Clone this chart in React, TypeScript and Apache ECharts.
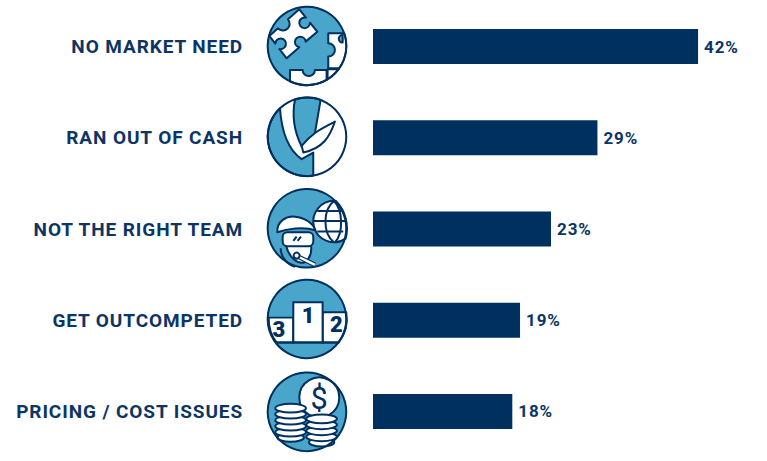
import React, { useEffect, useRef } from "react";
import * as echarts from "echarts";

const categories = ["NO MARKET NEED", "RAN OUT OF CASH", "NOT THE RIGHT TEAM", "GET OUTCOMPETED", "PRICING / COST ISSUES"];
const values = [42, 29, 23, 19, 18];

const NAVY = "#00305f";
const BLUE = "#4aa5cb";
const TEXT = "#0c3565";
const WHITE = "#ffffff";

const paths: Record<string, string> = {
  piece: "M 28 108 L 54 85 A 17 17 0 1 0 84 58 L 118 28 L 138 53 A 16 16 0 1 0 150 68 L 172 95 L 137 125 A 16 16 0 1 0 118 142 L 80 175 L 58 147 A 16 16 0 1 0 46 131 Z",
  rightPiece: "M 205 100 L 253 100 A 118 118 0 0 1 238 205 L 205 205 L 205 170 A 20 20 0 1 0 205 130 Z",
  rightBite: "M 248 105 A 11 11 0 0 0 248 128 A 118 118 0 0 0 248 105 Z",
  bottomPiece: "M 90 210 L 128 210 A 18 18 0 1 0 165 210 L 200 210 L 200 240 A 118 118 0 0 1 90 244 Z",
  cornerPiece: "M 203 208 L 236 208 A 118 118 0 0 1 203 238 Z",
  jacket: "M 60 325 C 65 400 85 450 125 478 L 160 458 L 160 527 A 118 118 0 0 1 60 325 Z",
  tie: "M 105 299 C 95 350 105 400 125 440 L 165 400 C 170 370 175 340 182 300 A 118 118 0 0 0 105 299 Z",
  hand: "M 225 365 C 210 410 190 445 130 458 L 125 438 C 160 395 190 385 225 365 Z",
  hat: "M 52 142 C 50 108 80 92 105 95 C 135 98 160 115 166 136 C 130 124 80 132 52 142 Z",
  face: "M 78 180 C 85 215 112 240 135 232 C 150 220 156 200 153 180 Z",
  mic: "M 112 214 L 165 240",
  shoulder: "M 62 190 C 62 215 80 238 105 246",
  globe: "M 228 48 A 62 62 0 1 0 257 161 A 118 118 0 0 0 228 48 Z",
  meridian: "M 222 48 C 188 75 188 145 222 172 M 222 48 C 250 75 250 145 226 171 M 160 108 L 258 108 M 172 78 L 245 78 M 172 140 L 250 140",
  glint: "M 100 168 L 110 155 M 113 168 L 123 155",
  podium3: "M 26 128 L 100 128 L 100 203 L 50 203 A 118 118 0 0 1 26 128 Z",
  podium2: "M 188 112 L 259 112 A 118 118 0 0 1 236 203 L 188 203 Z",
  base: "M 50 203 L 236 203",
};
Object.keys(paths).forEach((k) => {
  echarts.graphic.registerShape("ic_" + k, echarts.graphic.extendPath(paths[k], {}) as any);
});

const ICON_X = 260;
const DISC = { cx: 141, r: 118 };

const p = (k: string, fill: string, lw = 6, stroke = NAVY) => ({
  type: "ic_" + k,
  style: { fill, stroke, lineWidth: lw, lineJoin: "round" },
});
const disc = (cy: number, fill: string, stroke: string | null = NAVY) => ({
  type: "circle",
  shape: { cx: DISC.cx, cy, r: DISC.r },
  style: { fill, stroke: stroke ?? undefined, lineWidth: 6 },
});
const coin = (cx: number, cy: number, rx: number) => ({
  type: "ellipse",
  shape: { cx, cy, rx, ry: 13 },
  style: { fill: WHITE, stroke: NAVY, lineWidth: 6 },
});
const label = (t: string, x: number, y: number, size: number, weight = "900") => ({
  type: "text",
  style: { text: t, x, y, fill: NAVY, font: `${weight} ${size}px Roboto`, align: "center", verticalAlign: "middle" },
});

const group = (y: number, children: any[]) => ({ type: "group", x: ICON_X, y, scaleX: 1 / 3, scaleY: 1 / 3, children });

const icons = [
  group(0, [
    disc(138, BLUE, null),
    p("piece", WHITE),
    p("rightPiece", WHITE),
    p("rightBite", BLUE),
    p("bottomPiece", WHITE),
    p("cornerPiece", WHITE),
    disc(138, "none"),
  ]),
  group(0, [
    disc(411, WHITE, null),
    p("jacket", BLUE),
    p("tie", BLUE),
    p("hand", WHITE),
    disc(411, "none"),
  ]),
  group(185, [
    disc(130, BLUE, null),
    p("globe", WHITE),
    p("meridian", "none"),
    p("shoulder", "none"),
    p("face", WHITE),
    p("hat", WHITE),
    { type: "rect", shape: { x: 68, y: 142, width: 92, height: 42, r: 14 }, style: { fill: WHITE, stroke: NAVY, lineWidth: 6 } },
    p("glint", "none"),
    p("mic", "none", 14),
    p("mic", "none", 7, WHITE),
    { type: "circle", shape: { cx: 110, cy: 212, r: 9 }, style: { fill: WHITE, stroke: NAVY, lineWidth: 6 } },
    disc(130, "none"),
  ]),
  group(275, [
    disc(132, BLUE, null),
    p("podium3", WHITE),
    p("podium2", WHITE),
    { type: "rect", shape: { x: 100, y: 82, width: 88, height: 121 }, style: { fill: WHITE, stroke: NAVY, lineWidth: 6 } },
    p("base", "none"),
    label("1", 145, 122, 66),
    label("2", 230, 148, 66),
    label("3", 57, 165, 66),
    disc(132, "none"),
  ]),
  group(275, [
    disc(411, BLUE, null),
    { type: "circle", shape: { cx: 178, cy: 368, r: 60 }, style: { fill: WHITE, stroke: NAVY, lineWidth: 6 } },
    label("$", 178, 372, 92, "400"),
    ...[488, 472, 454, 436, 418, 400].map((y, i) => coin(92, y, i === 0 ? 40 : 46)),
    ...[502, 486, 468, 450, 432].map((y, i) => coin(185, y, i === 0 ? 38 : 46)),
    disc(411, "none"),
  ]),
];

export default function App() {
  const ref = useRef<HTMLDivElement>(null);
  useEffect(() => {
    document.body.style.margin = "0";
    const chart = echarts.init(ref.current!, null, { renderer: "svg" });
    chart.setOption({
      animation: false,
      backgroundColor: "#ffffff",
      textStyle: { fontFamily: "Roboto" },
      grid: { left: 373, width: 371.5, top: 1, height: 456, containLabel: false },
      xAxis: { type: "value", min: 0, max: 48, show: false },
      yAxis: {
        type: "category",
        inverse: true,
        data: categories,
        axisLine: { show: false },
        axisTick: { show: false },
        axisLabel: { margin: 130, color: TEXT, fontSize: 19, fontWeight: 700, fontFamily: "Roboto" },
      },
      series: [
        {
          type: "bar",
          data: values,
          barWidth: 35,
          itemStyle: { color: NAVY },
          label: {
            show: true,
            position: "right",
            distance: 6,
            formatter: "{c}%",
            color: TEXT,
            fontSize: 17,
            fontWeight: 700,
            fontFamily: "Roboto",
          },
        },
      ],
      graphic: { elements: icons },
    });
    return () => chart.dispose();
  }, []);
  return <div ref={ref} style={{ width: 767, height: 461, letterSpacing: "0.9px" }} />;
}
